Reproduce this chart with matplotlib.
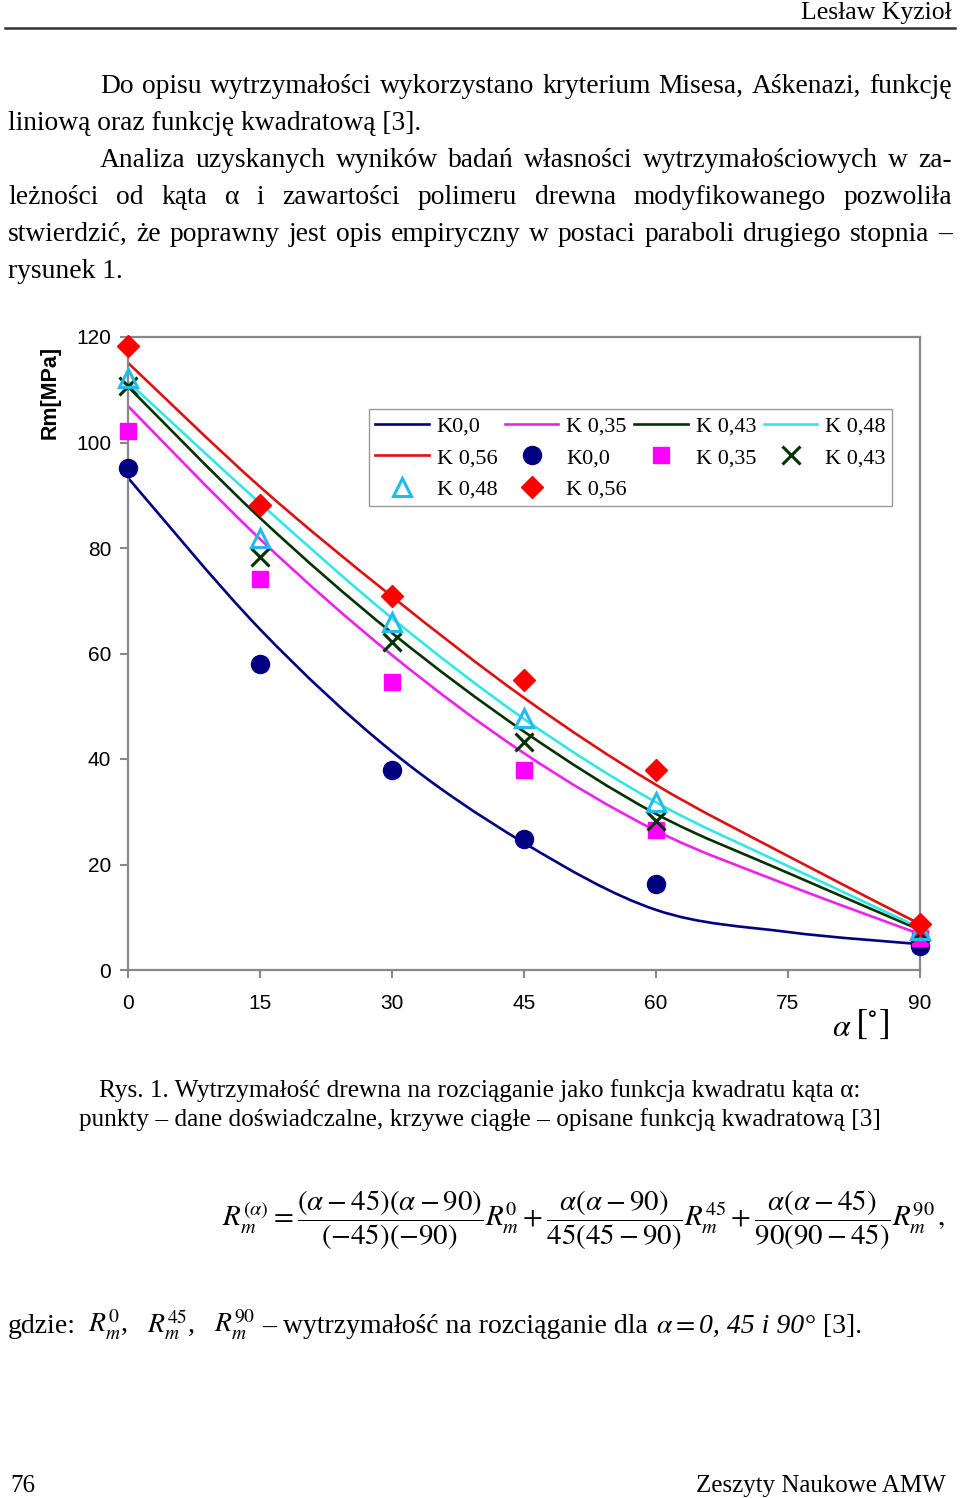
import matplotlib
matplotlib.use('Agg')
import matplotlib.pyplot as plt
from matplotlib.path import Path
from matplotlib.patches import PathPatch
from matplotlib.lines import Line2D

plt.rcParams['mathtext.fontset'] = 'stix'

W, H = 960, 1498
SERIF = 'Liberation Serif'
SANS = 'Liberation Sans'

# measured points (alpha in degrees, Rm in MPa)
angles = [0, 15, 30, 45, 60, 90]
rm_k000 = [95.2, 58.0, 37.9, 24.8, 16.3, 4.5]
rm_k035 = [102.2, 74.1, 54.6, 37.9, 26.5, 6.0]
rm_k043 = [110.7, 78.3, 62.2, 43.2, 28.2, 7.0]
rm_k048 = [112.2, 81.9, 66.0, 47.8, 31.8, 7.6]
rm_k056 = [118.3, 88.2, 70.9, 55.0, 37.9, 8.7]

# quadratic description, read at the curve nodes
fit_angles = [0, 15, 30, 45, 60, 75, 90]
fit_k000 = [93.3, 64.6, 41.4, 24.1, 11.4, 7.2, 4.9]
fit_k035 = [106.9, 81.7, 59.7, 41.1, 26.4, 16.1, 6.8]
fit_k043 = [110.6, 85.7, 63.9, 45.2, 29.6, 18.4, 7.6]
fit_k048 = [111.5, 88.5, 66.7, 47.6, 31.8, 19.7, 8.0]
fit_k056 = [115.1, 91.6, 70.8, 51.6, 35.1, 21.6, 8.7]

names = ['K0,0', 'K 0,35', 'K 0,43', 'K 0,48', 'K 0,56']
line_colors = ['#000080', '#EE22EE', '#003300', '#33E6E6', '#DD1111']
mark_colors = ['#000080', '#FF00FF', '#003300', '#22BBEE', '#FF0000']

para1 = ['Do opisu wytrzymałości wykorzystano kryterium Misesa, Aśkenazi, funkcję',
         'liniową oraz funkcję kwadratową [3].']
para2 = ['Analiza uzyskanych wyników badań własności wytrzymałościowych w za-',
         'leżności od kąta α i zawartości polimeru drewna modyfikowanego pozwoliła',
         'stwierdzić, że poprawny jest opis empiryczny w postaci paraboli drugiego stopnia –',
         'rysunek 1.']
caption = ['Rys. 1. Wytrzymałość drewna na rozciąganie jako funkcja kwadratu kąta α:',
           'punkty – dane doświadczalne, krzywe ciągłe – opisane funkcją kwadratową [3]']


fig = plt.figure(figsize=(W / 100, H / 100), dpi=100)
fig.patch.set_facecolor('white')
renderer = fig.canvas.get_renderer()


def fy(y):
    return 1 - y / H


def put_line(s, y, x0, x1=None, size=19.8):
    # x1 given -> spread the words so the line is justified
    if x1 is None:
        fig.text(x0 / W, fy(y), s, fontsize=size, family=SERIF, va='baseline')
        return
    words = s.split(' ')
    ts = [fig.text(0, fy(y), w, fontsize=size, family=SERIF, va='baseline') for w in words]
    ws = [t.get_window_extent(renderer).width for t in ts]
    gap = (x1 - x0 - sum(ws)) / (len(ws) - 1)
    x = x0
    for t, w in zip(ts, ws):
        t.set_x(x / W)
        x += w + gap


def smooth(ax, xs, ys, color):
    # cubic bezier through the nodes, like a smoothed spreadsheet line
    pts = list(zip(xs, ys))
    verts = [pts[0]]
    codes = [Path.MOVETO]
    n = len(pts)
    for i in range(n - 1):
        p0 = pts[max(i - 1, 0)]
        p1 = pts[i]
        p2 = pts[i + 1]
        p3 = pts[min(i + 2, n - 1)]
        c1 = (p1[0] + (p2[0] - p0[0]) / 6, p1[1] + (p2[1] - p0[1]) / 6)
        c2 = (p2[0] - (p3[0] - p1[0]) / 6, p2[1] - (p3[1] - p1[1]) / 6)
        verts += [c1, c2, p2]
        codes += [Path.CURVE4] * 3
    ax.add_patch(PathPatch(Path(verts, codes), fill=False, edgecolor=color,
                           lw=1.9, transform=ax.transData, zorder=2))


# header
fig.text(952 / W, fy(19), 'Lesław Kyzioł', fontsize=18.5, family=SERIF,
         ha='right', va='baseline')
fig.add_artist(Line2D([5 / W, 955 / W], [fy(28), fy(28)], color='#333333', lw=1.8))

put_line(para1[0], 93, 100, 952)
put_line(para1[1], 130, 8)
put_line(para2[0], 167, 100, 952)
put_line(para2[1], 204, 8, 952)
put_line(para2[2], 241, 8, 952)
put_line(para2[3], 278, 8)

# chart
ax = fig.add_axes([128 / W, fy(970), 792 / W, 633 / H])
ax.set_xlim(0, 90)
ax.set_ylim(0, 120)
ax.set_xticks(range(0, 91, 15))
ax.set_yticks(range(0, 121, 20))
for sp in ax.spines.values():
    sp.set_color('#888888')
    sp.set_linewidth(1.6)
ax.tick_params(axis='both', direction='out', length=6, width=1.5, color='#888888',
               labelsize=15)
ax.tick_params(axis='x', pad=11)
ax.tick_params(axis='y', pad=6)
for lab in ax.get_xticklabels() + ax.get_yticklabels():
    lab.set_family(SANS)

fits = [fit_k000, fit_k035, fit_k043, fit_k048, fit_k056]
data = [rm_k000, rm_k035, rm_k043, rm_k048, rm_k056]
for f, c in zip(fits, line_colors):
    smooth(ax, fit_angles, f, c)

mstyles = [dict(marker='o', ms=13, mfc=mark_colors[0], mec=mark_colors[0]),
           dict(marker='s', ms=11.5, mfc=mark_colors[1], mec=mark_colors[1]),
           dict(marker='x', ms=13, mec=mark_colors[2], mew=2.2),
           dict(marker='^', ms=13, mfc='none', mec=mark_colors[3], mew=2.2),
           dict(marker='D', ms=11, mfc=mark_colors[4], mec=mark_colors[4])]
for d, st in zip(data, mstyles):
    ax.plot(angles, d, ls='none', clip_on=False, zorder=3, **st)

line_h = [Line2D([], [], color=c, lw=1.9) for c in line_colors]
mark_h = [Line2D([], [], ls='none', **st) for st in mstyles]
handles = line_h + mark_h
labels = names + names
order = [0, 4, 8, 1, 5, 9, 2, 6, 3, 7]
leg = ax.legend([handles[i] for i in order], [labels[i] for i in order], ncol=4,
                loc='upper left', bbox_to_anchor=(0.304, 0.886), borderaxespad=0,
                fancybox=False, framealpha=1, edgecolor='#999999',
                prop={'family': SERIF, 'size': 16}, handlelength=2.4,
                handletextpad=0.35, columnspacing=0.35, labelspacing=0.5,
                borderpad=0.3)
leg.get_frame().set_linewidth(1.0)

fig.text(50 / W, fy(392), 'Rm[MPa]', rotation=90, fontsize=15.5, family=SANS,
         weight='bold', ha='center', va='center')
fig.text(842 / W, fy(1027), r'$\alpha$', fontsize=23, ha='center', va='center')
fig.text(872 / W, fy(1024), r'$[^{\circ}]$', fontsize=26, ha='center', va='center')

# caption
fig.text(480 / W, fy(1097), caption[0], fontsize=18.2, family=SERIF, ha='center', va='baseline')
fig.text(480 / W, fy(1126), caption[1], fontsize=18.2, family=SERIF, ha='center', va='baseline')

# formula
eq = (r'$R_m^{(\alpha)} = \dfrac{\left(\alpha-45\right)\left(\alpha-90\right)}{\left(-45\right)\left(-90\right)}R_m^{0}'
      r' + \dfrac{\alpha\left(\alpha-90\right)}{45\left(45-90\right)}R_m^{45}'
      r' + \dfrac{\alpha\left(\alpha-45\right)}{90\left(90-45\right)}R_m^{90}\,,$')
fig.text(222 / W, fy(1220), eq, fontsize=20.8, ha='left', va='center')

# "gdzie" line, pieces placed at their spots
gy = fy(1333)
fig.text(8 / W, gy, 'gdzie:', fontsize=20, family=SERIF, va='baseline')
fig.text(88 / W, gy, r'$R_m^{0}$,', fontsize=20, family=SERIF, va='baseline')
fig.text(147 / W, gy, r'$R_m^{45}$,', fontsize=20, family=SERIF, va='baseline')
fig.text(214 / W, gy, r'$R_m^{90}$', fontsize=20, family=SERIF, va='baseline')
fig.text(262 / W, gy, '– wytrzymałość na rozciąganie dla', fontsize=20, family=SERIF,
         va='baseline')
fig.text(656 / W, gy, r'$\alpha =$', fontsize=20, family=SERIF, va='baseline')
fig.text(699 / W, gy, '0, 45 i 90°', fontsize=20, family=SERIF, style='italic',
         va='baseline')
fig.text(823 / W, gy, '[3].', fontsize=20, family=SERIF, va='baseline')

# footer
fig.text(10 / W, fy(1492), '76', fontsize=18, family=SERIF, va='baseline')
fig.text(946 / W, fy(1492), 'Zeszyty Naukowe AMW', fontsize=18, family=SERIF,
         ha='right', va='baseline')

fig.savefig('out.png', dpi=100, facecolor='white')
